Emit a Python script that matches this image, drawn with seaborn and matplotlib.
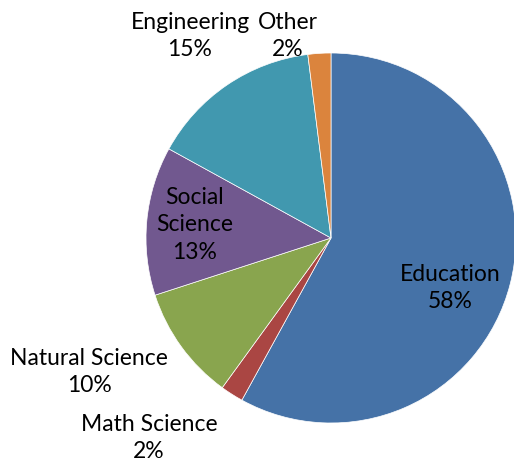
import numpy as np
import matplotlib
matplotlib.use("Agg")
import matplotlib.pyplot as plt
import seaborn as sns

# data, clockwise from 12 o'clock
fields = ["Education", "Math Science", "Natural Science", "Social\nScience", "Engineering", "Other"]
shares = [58, 2, 10, 13, 15, 2]
colors = ["#4572A7", "#AA4643", "#89A54E", "#71588F", "#4198AF", "#DB843D"]

# label block centres in pixel coords (layout only)
label_pos = [(450, 288), (149, 438), (89, 372), (195, 225), (190, 36), (288, 36)]

sns.set_theme(style="white")
plt.rcParams["font.family"] = ["Lato", "DejaVu Sans"]

W, H = 514, 464
fig = plt.figure(figsize=(W / 100, H / 100), dpi=100)
ax = fig.add_axes([0, 0, 1, 1])

cx, cy, r = 331, H - 239, 185
wedges, _ = ax.pie(
    shares,
    colors=colors,
    startangle=90,
    counterclock=False,
    center=(cx, cy),
    radius=r,
    wedgeprops={"edgecolor": "white", "linewidth": 0.5},
    frame=True,
)
ax.set_xlim(0, W)
ax.set_ylim(0, H)
ax.set_aspect("equal")
ax.axis("off")

for name, val, (px, py) in zip(fields, shares, label_pos):
    ax.text(px, H - py, f"{name}\n{val}%", ha="center", va="center",
            fontsize=16.5, color="black", linespacing=1.4)

fig.savefig("out.png", dpi=100)
